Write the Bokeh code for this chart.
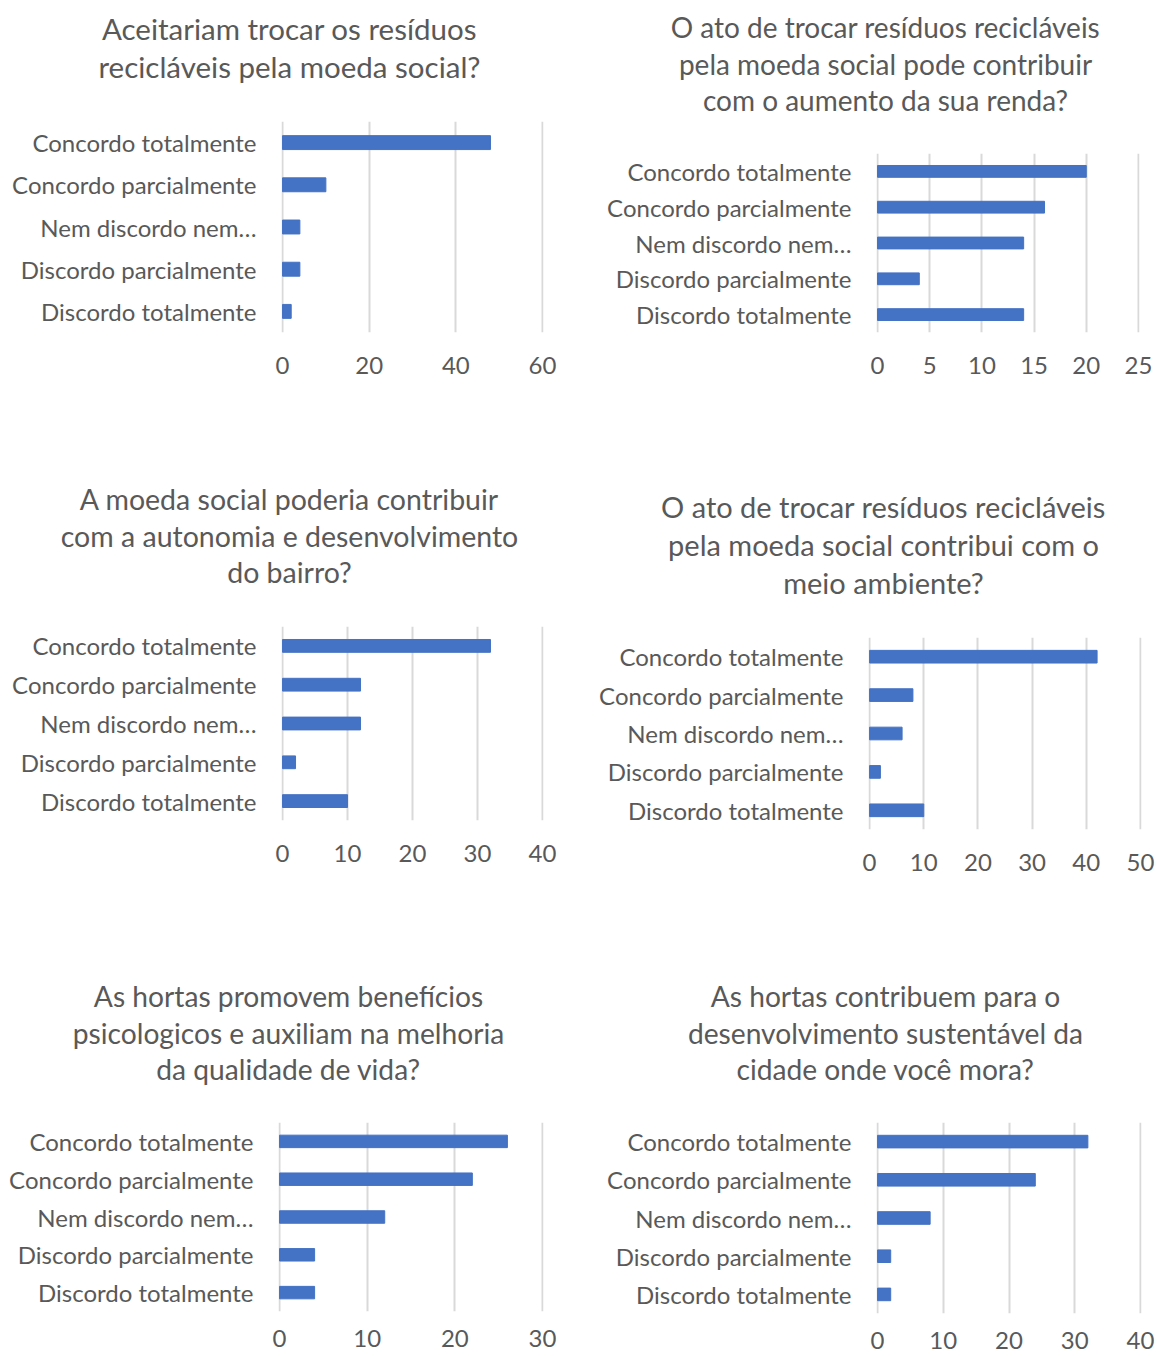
from bokeh.plotting import figure
from bokeh.models import Range1d, FactorRange, FixedTicker, Label
from bokeh.layouts import column, row
from bokeh.embed import file_html
from bokeh.resources import INLINE

# ---------------- data ----------------
categories = ["Concordo totalmente", "Concordo parcialmente", "Nem discordo nem…",
              "Discordo parcialmente", "Discordo totalmente"]

values_1 = [48, 10, 4, 4, 2]
values_2 = [20, 16, 14, 4, 14]
values_3 = [32, 12, 12, 2, 10]
values_4 = [42, 8, 6, 2, 10]
values_5 = [26, 22, 12, 4, 4]
values_6 = [32, 24, 8, 2, 2]

titles_1 = ["Aceitariam trocar os resíduos", "recicláveis pela moeda social?"]
titles_2 = ["O ato de trocar resíduos recicláveis", "pela moeda social pode contribuir",
            "com o aumento da sua renda?"]
titles_3 = ["A moeda social poderia contribuir", "com a autonomia e desenvolvimento", "do bairro?"]
titles_4 = ["O ato de trocar resíduos recicláveis", "pela moeda social contribui com o",
            "meio ambiente?"]
titles_5 = ["As hortas promovem benefícios", "psicologicos e auxiliam na melhoria",
            "da qualidade de vida?"]
titles_6 = ["As hortas contribuem para o", "desenvolvimento sustentável da",
            "cidade onde você mora?"]

ticks_1 = [0, 20, 40, 60]
ticks_2 = [0, 5, 10, 15, 20, 25]
ticks_3 = [0, 10, 20, 30, 40]
ticks_4 = [0, 10, 20, 30, 40, 50]
ticks_5 = [0, 10, 20, 30]
ticks_6 = [0, 10, 20, 30, 40]

# ---------------- layout (page pixel positions) ----------------
ROW_TOPS = [0, 440, 930]
ROW_HEIGHTS = [440, 490, 426]
ROW_TICK_STANDOFF = [24, 24, 18]
COL_LEFTS = [0, 578]
COL_WIDTHS = [578, 579]

FONT = "Lato"
TEXT_COLOR = "#595959"
BAR_COLOR = "#4472C4"
GRID_COLOR = "#D9D9D9"
LABEL_SIZE = "24px"
TITLE_SHIFT = 2

charts = [
    # values, titles, ticks, col, row, frame(L,T,R,B), title center x, title line ys, title size
    (values_1, titles_1, ticks_1, 0, 0, (281, 121, 543, 332), 289, [30, 68], "29.5px"),
    (values_2, titles_2, ticks_2, 1, 0, (876, 153, 1139, 332), 885, [28, 65, 101], "28px"),
    (values_3, titles_3, ticks_3, 0, 1, (281, 626, 543, 820), 289, [500, 537, 573], "28.5px"),
    (values_4, titles_4, ticks_4, 1, 1, (868, 637, 1141, 829), 883, [508, 546, 584], "29px"),
    (values_5, titles_5, ticks_5, 0, 2, (278, 1122, 543, 1311), 288, [997, 1034, 1070], "28.2px"),
    (values_6, titles_6, ticks_6, 1, 2, (876, 1122, 1141, 1313), 885, [997, 1034, 1070], "28.2px"),
]


def make_chart(vals, title_lines, ticks, ci, ri, frame, tcx, tys, tsize):
    x0, y0 = COL_LEFTS[ci], ROW_TOPS[ri]
    w, h = COL_WIDTHS[ci], ROW_HEIGHTS[ri]
    L, T, R, B = frame
    gap = 8
    th = T - y0 - gap  # height of title strip

    # title strip
    t = figure(width=w, height=th, x_range=Range1d(0, 1), y_range=Range1d(0, 1),
               min_border=0, output_backend="svg", toolbar_location=None,
               frame_align=False)
    t.axis.visible = False
    t.grid.visible = False
    t.outline_line_color = None
    for line, ty in zip(title_lines, tys):
        t.add_layout(Label(x=tcx - x0, y=th - (ty - y0) + TITLE_SHIFT,
                           x_units="screen", y_units="screen",
                           text=line, text_align="center", text_baseline="middle",
                           text_font=FONT, text_font_size=tsize, text_color=TEXT_COLOR))

    # bar chart
    pad = ticks[-1] * 0.004
    p = figure(width=w, height=h - th,
               x_range=Range1d(-pad, ticks[-1] + pad),
               y_range=FactorRange(factors=list(reversed(categories))),
               min_border_left=L - x0, min_border_right=x0 + w - R,
               min_border_top=gap, min_border_bottom=y0 + h - B,
               output_backend="svg", toolbar_location=None, frame_align=False)
    p.hbar(y=categories, right=vals, left=0, height=0.33,
           fill_color=BAR_COLOR, line_color=BAR_COLOR)
    p.outline_line_color = None
    p.ygrid.grid_line_color = None
    p.xgrid.grid_line_color = GRID_COLOR
    p.xgrid.grid_line_width = 2
    p.xaxis.ticker = FixedTicker(ticks=ticks)
    for ax in (p.xaxis, p.yaxis):
        ax.axis_line_color = None
        ax.major_tick_line_color = None
        ax.minor_tick_line_color = None
        ax.major_tick_out = 0
        ax.major_tick_in = 0
        ax.major_label_text_font = FONT
        ax.major_label_text_font_size = LABEL_SIZE
        ax.major_label_text_color = TEXT_COLOR
    p.xaxis.major_label_standoff = ROW_TICK_STANDOFF[ri]
    p.yaxis.major_label_standoff = 25
    return column(t, p, spacing=0)


cells = [make_chart(*c) for c in charts]
layout = column(row(cells[0], cells[1], spacing=0),
                row(cells[2], cells[3], spacing=0),
                row(cells[4], cells[5], spacing=0), spacing=0)

open("out.html", "w").write(file_html(layout, INLINE))
